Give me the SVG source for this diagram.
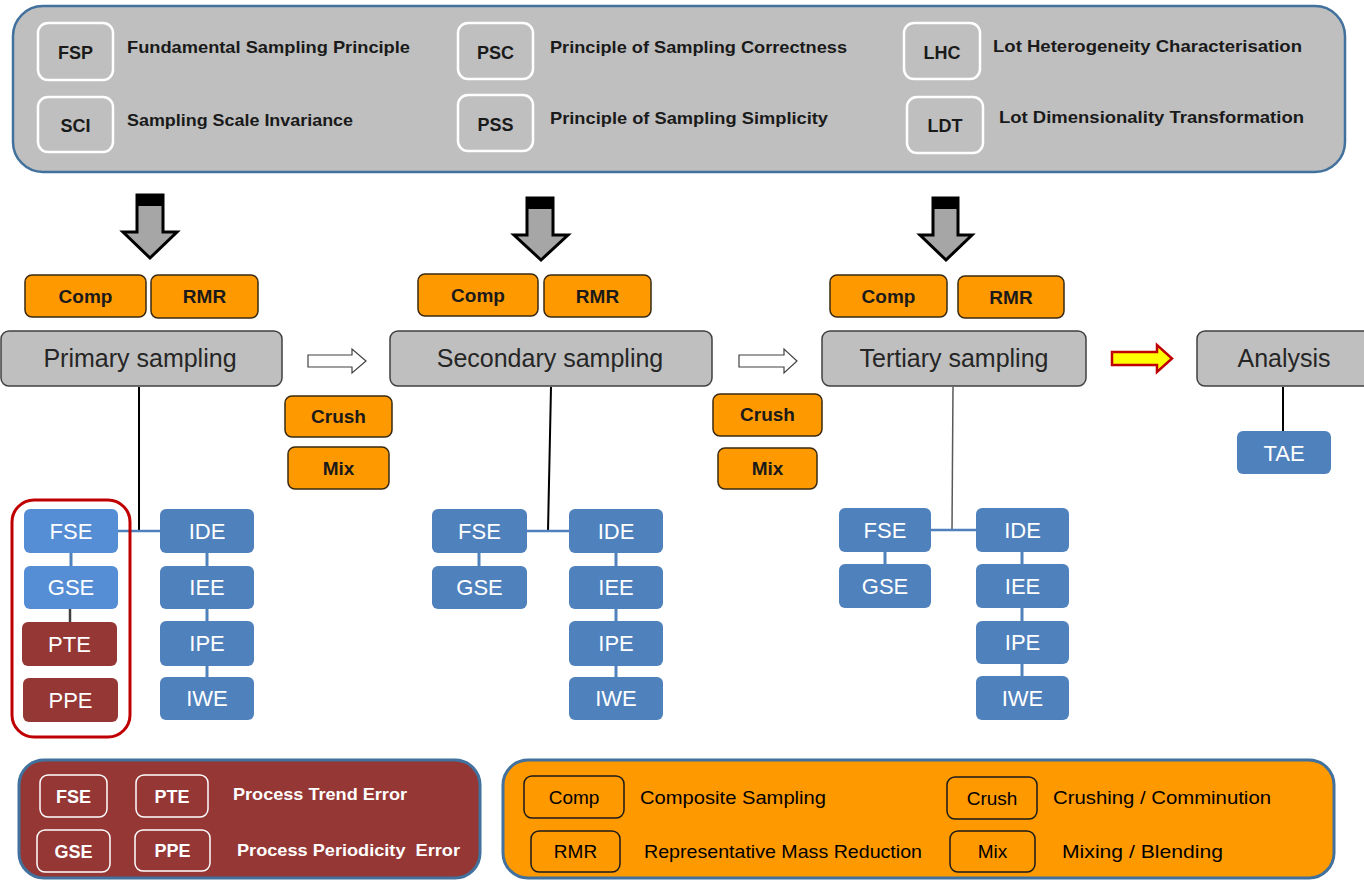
<svg xmlns="http://www.w3.org/2000/svg" width="1364" height="882" viewBox="0 0 1364 882">
<style>
.panel{fill:#bfbfbf;stroke:#41719c;stroke-width:2.5}
.wbox{fill:none;stroke:#ffffff;stroke-width:2.5}
.tk{font-family:"Liberation Sans",Arial,sans-serif;font-weight:bold;font-size:18px;fill:#1a1a1a;text-anchor:middle}
.tl{font-family:"Liberation Sans",Arial,sans-serif;font-weight:bold;font-size:17px;fill:#1a1a1a}
.orange{fill:#ff9900;stroke:#3a2a10;stroke-width:1.5}
.ot{font-family:"Liberation Sans",Arial,sans-serif;font-weight:bold;font-size:19px;fill:#1a1a1a;text-anchor:middle}
.samp{fill:#bfbfbf;stroke:#404040;stroke-width:1.5}
.st{font-family:"Liberation Sans",Arial,sans-serif;font-size:25px;fill:#262626;text-anchor:middle}
.blue{fill:#4f81bd}
.lblue{fill:#558ed5}
.dred{fill:#953735}
.bt{font-family:"Liberation Sans",Arial,sans-serif;font-size:22px;fill:#ffffff;text-anchor:middle}
.garrow{fill:#a6a6a6;stroke:#000000;stroke-width:3;stroke-linejoin:miter}
.harrow{fill:#ffffff;stroke:#404040;stroke-width:1.2}
.bl{stroke:#4f81bd;stroke-width:3;fill:none}
.blk{stroke:#000000;stroke-width:2;fill:none}
.rpanel{fill:#953735;stroke:#41719c;stroke-width:3}
.opanel{fill:#ff9900;stroke:#41719c;stroke-width:3}
.rw{fill:none;stroke:#ffffff;stroke-width:1.5}
.rt{font-family:"Liberation Sans",Arial,sans-serif;font-weight:bold;font-size:18px;fill:#ffffff;text-anchor:middle}
.rl{font-family:"Liberation Sans",Arial,sans-serif;font-weight:bold;font-size:17px;fill:#ffffff}
.ob{fill:none;stroke:#1a1a1a;stroke-width:1.5}
.obt{font-family:"Liberation Sans",Arial,sans-serif;font-size:19px;fill:#000000;text-anchor:middle}
.obl{font-family:"Liberation Sans",Arial,sans-serif;font-size:19px;fill:#000000}
</style>

<g id="principles">
  <rect class="panel" x="13" y="6" width="1332" height="166" rx="30"/>
  <rect class="wbox" x="38" y="23" width="75" height="57" rx="10"/>
  <text class="tk" x="75.5" y="59">FSP</text>
  <text class="tl" x="127" y="53" textLength="283" lengthAdjust="spacingAndGlyphs">Fundamental Sampling Principle</text>
  <rect class="wbox" x="38" y="97" width="75" height="55" rx="10"/>
  <text class="tk" x="75.5" y="132">SCI</text>
  <text class="tl" x="127" y="126" textLength="226" lengthAdjust="spacingAndGlyphs">Sampling Scale Invariance</text>
  <rect class="wbox" x="458" y="23" width="75" height="56" rx="10"/>
  <text class="tk" x="495.5" y="59">PSC</text>
  <text class="tl" x="550" y="53" textLength="297" lengthAdjust="spacingAndGlyphs">Principle of Sampling Correctness</text>
  <rect class="wbox" x="458" y="95" width="75" height="56" rx="10"/>
  <text class="tk" x="495.5" y="131">PSS</text>
  <text class="tl" x="550" y="124" textLength="278" lengthAdjust="spacingAndGlyphs">Principle of Sampling Simplicity</text>
  <rect class="wbox" x="904" y="23" width="76" height="56" rx="10"/>
  <text class="tk" x="942" y="59">LHC</text>
  <text class="tl" x="993" y="52" textLength="309" lengthAdjust="spacingAndGlyphs">Lot Heterogeneity Characterisation</text>
  <rect class="wbox" x="907" y="97" width="76" height="56" rx="10"/>
  <text class="tk" x="945" y="132">LDT</text>
  <text class="tl" x="999" y="123" textLength="305" lengthAdjust="spacingAndGlyphs">Lot Dimensionality Transformation</text>
</g>

<g id="connectors">
  <!-- gray block arrows -->
  <polygon class="garrow" points="137,195 163,195 163,232 177,232 150,258 123,232 137,232"/>
  <rect x="137" y="195" width="26" height="11" fill="#000"/>
  <polygon class="garrow" points="527,198 553,198 553,235 568,235 541,260 514,235 527,235"/>
  <rect x="527" y="198" width="26" height="11" fill="#000"/>
  <polygon class="garrow" points="933,198 958,198 958,235 972,235 946,260 920,235 933,235"/>
  <rect x="933" y="198" width="25" height="11" fill="#000"/>
  <!-- hollow arrows -->
  <polygon class="harrow" points="308,355 352,355 352,349 366,361 352,373 352,367 308,367"/>
  <polygon class="harrow" points="739,355 784,355 784,349 797,361 784,373 784,367 739,367"/>
  <!-- yellow arrow -->
  <polygon points="1112,352 1157,352 1157,345 1172,358.5 1157,372 1157,365 1112,365" fill="#ffff00" stroke="#c00000" stroke-width="2.5"/>
  <!-- primary tree -->
  <line class="blk" x1="139" y1="387" x2="139" y2="531"/>
  <line stroke="#4f81bd" stroke-width="2.5" x1="118" y1="531" x2="160" y2="531"/>
  <line class="bl" x1="71" y1="553" x2="71" y2="566"/>
  <line stroke="#404040" stroke-width="2.5" x1="70" y1="609" x2="70" y2="622"/>
  <line class="bl" x1="207" y1="553" x2="207" y2="566"/>
  <line class="bl" x1="207" y1="609" x2="207" y2="621"/>
  <line class="bl" x1="207" y1="666" x2="207" y2="677"/>
  <!-- secondary tree -->
  <line class="blk" x1="551" y1="387" x2="548" y2="531"/>
  <line stroke="#4f81bd" stroke-width="2.5" x1="527" y1="531" x2="569" y2="531"/>
  <line class="bl" x1="479" y1="553" x2="479" y2="566"/>
  <line class="bl" x1="616" y1="553" x2="616" y2="566"/>
  <line class="bl" x1="616" y1="609" x2="616" y2="621"/>
  <line class="bl" x1="616" y1="666" x2="616" y2="677"/>
  <!-- tertiary tree -->
  <line stroke="#595959" stroke-width="1.5" x1="953" y1="387" x2="952" y2="530"/>
  <line stroke="#4f81bd" stroke-width="2.5" x1="931" y1="530" x2="976" y2="530"/>
  <line class="bl" x1="885" y1="552" x2="885" y2="564"/>
  <line class="bl" x1="1022" y1="552" x2="1022" y2="564"/>
  <line class="bl" x1="1022" y1="608" x2="1022" y2="621"/>
  <line class="bl" x1="1022" y1="664" x2="1022" y2="676"/>
  <!-- analysis -->
  <line class="blk" x1="1283" y1="387" x2="1283" y2="431"/>
</g>

<g id="stage-ops">
  <rect class="orange" x="25" y="275" width="121" height="42" rx="7"/>
  <text class="ot" x="85.5" y="303">Comp</text>
  <rect class="orange" x="151" y="275" width="107" height="43" rx="7"/>
  <text class="ot" x="204.5" y="303">RMR</text>
  <rect class="orange" x="418" y="274" width="120" height="42" rx="7"/>
  <text class="ot" x="478" y="302">Comp</text>
  <rect class="orange" x="544" y="275" width="107" height="42" rx="7"/>
  <text class="ot" x="597.5" y="303">RMR</text>
  <rect class="orange" x="830" y="275" width="117" height="42" rx="7"/>
  <text class="ot" x="888.5" y="303">Comp</text>
  <rect class="orange" x="958" y="276" width="106" height="42" rx="7"/>
  <text class="ot" x="1011" y="304">RMR</text>
  <rect class="orange" x="285" y="396" width="107" height="41" rx="7"/>
  <text class="ot" x="338.5" y="423">Crush</text>
  <rect class="orange" x="288" y="447" width="101" height="42" rx="7"/>
  <text class="ot" x="338.5" y="475">Mix</text>
  <rect class="orange" x="713" y="394" width="109" height="42" rx="7"/>
  <text class="ot" x="767.5" y="421">Crush</text>
  <rect class="orange" x="718" y="448" width="99" height="41" rx="7"/>
  <text class="ot" x="767.5" y="475">Mix</text>
</g>

<g id="primary-sampling">
  <rect class="samp" x="1" y="331" width="281" height="55" rx="8"/>
  <text class="st" x="140" y="367">Primary sampling</text>
</g>
<g id="secondary-sampling">
  <rect class="samp" x="390" y="331" width="322" height="55" rx="8"/>
  <text class="st" x="550" y="367">Secondary sampling</text>
</g>
<g id="tertiary-sampling">
  <rect class="samp" x="822" y="331" width="264" height="55" rx="8"/>
  <text class="st" x="954" y="367">Tertiary sampling</text>
</g>
<g id="analysis">
  <rect class="samp" x="1197" y="331" width="180" height="55" rx="8"/>
  <text class="st" x="1284" y="367">Analysis</text>
</g>
<g id="tae">
  <rect class="blue" x="1237" y="431" width="94" height="43" rx="6"/>
  <text class="bt" x="1284" y="461">TAE</text>
</g>

<g id="primary-errors">
  <rect x="12" y="500" width="118" height="237" rx="22" fill="none" stroke="#c00000" stroke-width="3"/>
  <rect class="lblue" x="24" y="509" width="94" height="44" rx="6"/>
  <text class="bt" x="71" y="539">FSE</text>
  <rect class="lblue" x="24" y="566" width="94" height="43" rx="6"/>
  <text class="bt" x="71" y="595">GSE</text>
  <rect class="dred" x="22" y="622" width="95" height="44" rx="6"/>
  <text class="bt" x="69.5" y="652">PTE</text>
  <rect class="dred" x="23" y="678" width="95" height="44" rx="6"/>
  <text class="bt" x="70.5" y="708">PPE</text>
  <rect class="blue" x="160" y="509" width="94" height="44" rx="6"/>
  <text class="bt" x="207" y="539">IDE</text>
  <rect class="blue" x="160" y="566" width="94" height="43" rx="6"/>
  <text class="bt" x="207" y="595">IEE</text>
  <rect class="blue" x="160" y="621" width="94" height="45" rx="6"/>
  <text class="bt" x="207" y="651">IPE</text>
  <rect class="blue" x="160" y="677" width="94" height="43" rx="6"/>
  <text class="bt" x="207" y="706">IWE</text>
</g>

<g id="secondary-errors">
  <rect class="blue" x="432" y="509" width="95" height="44" rx="6"/>
  <text class="bt" x="479.5" y="539">FSE</text>
  <rect class="blue" x="432" y="566" width="95" height="43" rx="6"/>
  <text class="bt" x="479.5" y="595">GSE</text>
  <rect class="blue" x="569" y="509" width="94" height="44" rx="6"/>
  <text class="bt" x="616" y="539">IDE</text>
  <rect class="blue" x="569" y="566" width="94" height="43" rx="6"/>
  <text class="bt" x="616" y="595">IEE</text>
  <rect class="blue" x="569" y="621" width="94" height="45" rx="6"/>
  <text class="bt" x="616" y="651">IPE</text>
  <rect class="blue" x="569" y="677" width="94" height="43" rx="6"/>
  <text class="bt" x="616" y="706">IWE</text>
</g>

<g id="tertiary-errors">
  <rect class="blue" x="839" y="508" width="92" height="44" rx="6"/>
  <text class="bt" x="885" y="538">FSE</text>
  <rect class="blue" x="839" y="564" width="92" height="44" rx="6"/>
  <text class="bt" x="885" y="594">GSE</text>
  <rect class="blue" x="976" y="508" width="93" height="44" rx="6"/>
  <text class="bt" x="1022.5" y="538">IDE</text>
  <rect class="blue" x="976" y="564" width="93" height="44" rx="6"/>
  <text class="bt" x="1022.5" y="594">IEE</text>
  <rect class="blue" x="976" y="621" width="93" height="43" rx="6"/>
  <text class="bt" x="1022.5" y="650">IPE</text>
  <rect class="blue" x="976" y="676" width="93" height="44" rx="6"/>
  <text class="bt" x="1022.5" y="706">IWE</text>
</g>

<g id="legend-process">
  <rect class="rpanel" x="19" y="760" width="461" height="118" rx="25"/>
  <rect class="rw" x="40" y="775" width="67" height="42" rx="8"/>
  <text class="rt" x="73.5" y="803">FSE</text>
  <rect class="rw" x="136" y="775" width="72" height="42" rx="8"/>
  <text class="rt" x="172" y="803">PTE</text>
  <text class="rl" x="233" y="800" textLength="174" lengthAdjust="spacingAndGlyphs">Process Trend Error</text>
  <rect class="rw" x="37" y="830" width="73" height="42" rx="8"/>
  <text class="rt" x="73.5" y="858">GSE</text>
  <rect class="rw" x="135" y="830" width="75" height="41" rx="8"/>
  <text class="rt" x="172.5" y="857">PPE</text>
  <text class="rl" x="237" y="856" textLength="223" lengthAdjust="spacingAndGlyphs" xml:space="preserve">Process Periodicity  Error</text>
</g>

<g id="legend-operations">
  <rect class="opanel" x="503" y="760" width="831" height="118" rx="25"/>
  <rect class="ob" x="524" y="776" width="100" height="42" rx="8"/>
  <text class="obt" x="574" y="804">Comp</text>
  <text class="obl" x="640" y="804" textLength="186" lengthAdjust="spacingAndGlyphs">Composite Sampling</text>
  <rect class="ob" x="947" y="777" width="90" height="42" rx="8"/>
  <text class="obt" x="992" y="805">Crush</text>
  <text class="obl" x="1053" y="804" textLength="218" lengthAdjust="spacingAndGlyphs">Crushing / Comminution</text>
  <rect class="ob" x="531" y="831" width="89" height="41" rx="8"/>
  <text class="obt" x="575.5" y="858">RMR</text>
  <text class="obl" x="644" y="858" textLength="278" lengthAdjust="spacingAndGlyphs">Representative Mass Reduction</text>
  <rect class="ob" x="950" y="831" width="85" height="41" rx="8"/>
  <text class="obt" x="992.5" y="858">Mix</text>
  <text class="obl" x="1062" y="858" textLength="161" lengthAdjust="spacingAndGlyphs">Mixing / Blending</text>
</g>
</svg>
